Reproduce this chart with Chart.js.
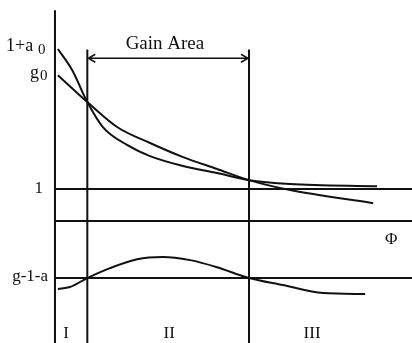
<!DOCTYPE html>
<html>
<head>
<meta charset="utf-8">
<script src="https://cdn.jsdelivr.net/npm/chart.js@4/dist/chart.umd.min.js"></script>
<style>
  html, body { margin: 0; padding: 0; background: #fff; }
  #wrap { width: 412px; height: 343px; }
</style>
</head>
<body>
<div id="wrap"><canvas id="gainChart" width="412" height="343"></canvas></div>
<script>
// loss curve 1+a (starts at 1+a0)
const lossPhi = [0.09, 0.53, 1.0, 1.48, 2.23, 2.94, 3.96, 5.01, 6.0, 7.27, 9.96];
const lossVals = [5.38, 4.72, 3.72, 2.94, 2.38, 2.03, 1.72, 1.5, 1.28, 1.16, 1.09];

// gain curve g (starts at g0)
const gainPhi = [0.09, 1.0, 1.92, 2.94, 3.96, 5.01, 6.0, 7.27, 9.84];
const gainVals = [4.56, 3.72, 2.94, 2.44, 2.0, 1.63, 1.28, 0.97, 0.56];

// net gain g-1-a, relative to its own baseline
const netPhi = [0.09, 0.46, 1.0, 1.7, 2.54, 3.34, 4.18, 5.01, 6.0, 7.05, 8.29, 9.59];
const netVals = [-0.34, -0.28, 0, 0.31, 0.59, 0.66, 0.56, 0.34, 0, -0.22, -0.47, -0.5];

const unityLevel = 1;
const netBaseline = -1.78;
const regionBounds = [1, 6];
const regionNames = ["I", "II", "III"];
const regionLabelPhi = [0.34, 3.53, 7.95];

// visible window
const X_MIN = -1.70, X_MAX = 11.04;
const Y_MIN = -3.81, Y_MAX = 6.91;
const AXIS_TOP = 6.59;
const BOUND_TOP = 5.36;
const ARROW_Y = 5.09;

const ink = "#111";
const serif = "'Liberation Serif', 'DejaVu Serif', serif";

function pts(xs, ys, off = 0) {
    return xs.map((x, i) => ({ x: x, y: ys[i] + off }));
}

function straight(data, width) {
    return {
        data: data,
        borderColor: ink,
        borderWidth: width,
        tension: 0,
        pointRadius: 0,
        fill: false
    };
}

function curve(data) {
    return {
        data: data,
        borderColor: ink,
        borderWidth: 2,
        cubicInterpolationMode: "monotone",
        pointRadius: 0,
        fill: false
    };
}

const datasets = [
    // vertical axis and horizontal Φ axis
    straight([{ x: 0, y: AXIS_TOP }, { x: 0, y: Y_MIN }], 2),
    straight([{ x: 0, y: 0 }, { x: X_MAX, y: 0 }], 2),
    // level 1 and the g-1-a baseline
    straight([{ x: 0, y: unityLevel }, { x: X_MAX, y: unityLevel }], 2),
    straight([{ x: 0, y: netBaseline }, { x: X_MAX, y: netBaseline }], 2),
    // region boundaries
    ...regionBounds.map(b => straight([{ x: b, y: BOUND_TOP }, { x: b, y: Y_MIN }], 2)),
    curve(pts(lossPhi, lossVals)),
    curve(pts(gainPhi, gainVals)),
    curve(pts(netPhi, netVals, netBaseline))
];

const annotations = {
    id: "annotations",
    afterDraw(chart) {
        const { ctx } = chart;
        const sx = chart.scales.x;
        const sy = chart.scales.y;
        const px = v => sx.getPixelForValue(v);
        const py = v => sy.getPixelForValue(v);

        ctx.save();
        ctx.fillStyle = ink;
        ctx.strokeStyle = ink;

        // Gain Area arrow between the region bounds
        const ax1 = px(regionBounds[0]), ax2 = px(regionBounds[1]), ay = py(ARROW_Y);
        ctx.lineWidth = 1.5;
        ctx.beginPath();
        ctx.moveTo(ax1, ay);
        ctx.lineTo(ax2, ay);
        ctx.moveTo(ax1 + 8, ay - 4);
        ctx.lineTo(ax1 + 1, ay);
        ctx.lineTo(ax1 + 8, ay + 4);
        ctx.moveTo(ax2 - 8, ay - 4);
        ctx.lineTo(ax2 - 1, ay);
        ctx.lineTo(ax2 - 8, ay + 4);
        ctx.stroke();

        ctx.textBaseline = "alphabetic";
        ctx.textAlign = "center";
        ctx.font = "19px " + serif;
        ctx.fillText("Gain Area", px(3.4), ay - 9);

        // left-hand level labels
        ctx.font = "18px " + serif;
        ctx.textAlign = "left";
        ctx.fillText("1+a", 6, py(lossVals[0]) + 2);
        ctx.font = "15px " + serif;
        ctx.fillText("0", 38, py(lossVals[0]) + 5);
        ctx.font = "18px " + serif;
        ctx.fillText("g", 30, py(gainVals[0]) + 3);
        ctx.font = "15px " + serif;
        ctx.fillText("0", 40, py(gainVals[0]) + 5);

        ctx.font = "17px " + serif;
        ctx.textAlign = "right";
        ctx.fillText("1", 43, py(unityLevel) + 4);
        ctx.fillText("g-1-a", 48, py(netBaseline) + 3);

        // Φ axis label
        ctx.textAlign = "center";
        ctx.fillText("Φ", px(10.4), py(-0.52) + 6);

        // region numerals
        ctx.font = "17px " + serif;
        regionNames.forEach((name, i) => {
            ctx.fillText(name, px(regionLabelPhi[i]), 338);
        });

        ctx.restore();
    }
};

new Chart(document.getElementById("gainChart"), {
    type: "line",
    data: { datasets: datasets },
    options: {
        responsive: false,
        animation: false,
        layout: { padding: 0 },
        scales: {
            x: { type: "linear", min: X_MIN, max: X_MAX, display: false },
            y: { type: "linear", min: Y_MIN, max: Y_MAX, display: false }
        },
        plugins: {
            legend: { display: false },
            tooltip: { enabled: false }
        }
    },
    plugins: [annotations]
});
</script>
</body>
</html>
